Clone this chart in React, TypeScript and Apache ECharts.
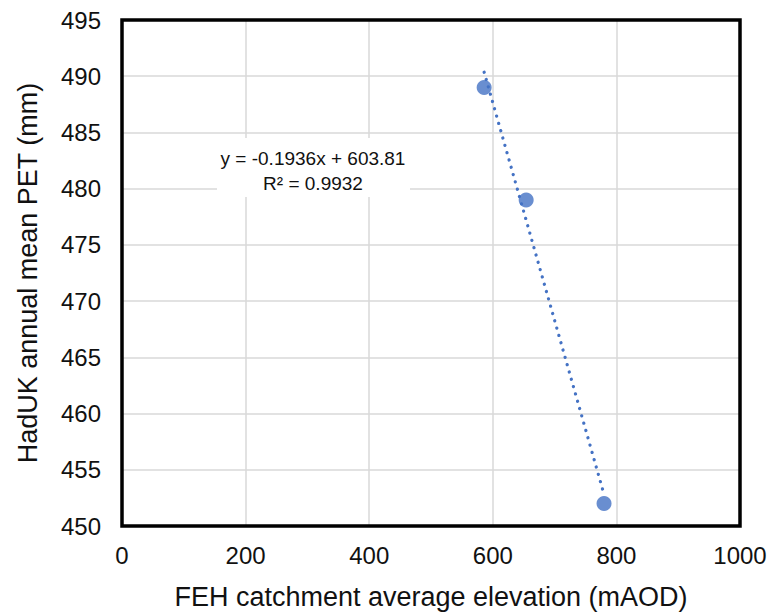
import React, { useEffect, useRef } from "react";
import * as echarts from "echarts";

const elevation = [586, 654, 780];
const pet = [489, 479, 452];
const slope = -0.1936;
const intercept = 603.81;
const equationLines = ["y = -0.1936x + 603.81", "R² = 0.9932"];
const xTitle = "FEH catchment average elevation (mAOD)";
const yTitle = "HadUK annual mean PET (mm)";

const GRID = { left: 122, top: 20, right: 31, bottom: 90 };
const W = 771;
const H = 616;

export default function App() {
  const ref = useRef<HTMLDivElement>(null);
  useEffect(() => {
    if (!ref.current) return;
    const chart = echarts.init(ref.current, null, { renderer: "svg" });
    const xMin = Math.min(...elevation);
    const xMax = Math.max(...elevation);
    const trend = [
      [xMin, slope * xMin + intercept],
      [xMax, slope * xMax + intercept],
    ];
    const font = "'Liberation Sans', Arial, sans-serif";
    chart.setOption({
      animation: false,
      backgroundColor: "#fff",
      grid: { ...GRID },
      xAxis: {
        type: "value",
        min: 0,
        max: 1000,
        interval: 200,
        name: xTitle,
        nameLocation: "middle",
        nameGap: 57,
        nameTextStyle: { fontFamily: font, fontSize: 27, color: "#111" },
        axisLine: { show: false },
        axisTick: { show: false },
        axisLabel: {
          fontFamily: font,
          fontSize: 24,
          color: "#111",
          margin: 17,
          formatter: (v: number) => String(v),
        },
        splitLine: { show: true, lineStyle: { color: "#d9d9d9", width: 1.5 } },
      },
      yAxis: {
        type: "value",
        min: 450,
        max: 495,
        interval: 5,
        name: yTitle,
        nameLocation: "middle",
        nameGap: 81,
        nameTextStyle: { fontFamily: font, fontSize: 27, color: "#111" },
        axisLine: { show: false },
        axisTick: { show: false },
        axisLabel: { fontFamily: font, fontSize: 24, color: "#111", margin: 21 },
        splitLine: { show: true, lineStyle: { color: "#d9d9d9", width: 1.5 } },
      },
      graphic: [
        {
          type: "rect",
          shape: {
            x: GRID.left,
            y: GRID.top,
            width: W - GRID.left - GRID.right,
            height: H - GRID.top - GRID.bottom,
          },
          style: { fill: "none", stroke: "#000", lineWidth: 3.5 },
          z: 20,
          silent: true,
        },
        {
          type: "rect",
          shape: { x: 217, y: 138, width: 193, height: 59 },
          style: { fill: "#fff" },
          z: 5,
        },
        {
          type: "text",
          x: 313,
          y: 158,
          z: 6,
          style: {
            text: equationLines[0],
            font: `19px ${font}`,
            fill: "#111",
            align: "center",
            verticalAlign: "middle",
          },
        },
        {
          type: "text",
          x: 313,
          y: 183,
          z: 6,
          style: {
            text: equationLines[1],
            font: `19px ${font}`,
            fill: "#111",
            align: "center",
            verticalAlign: "middle",
          },
        },
      ],
      series: [
        {
          type: "line",
          data: trend,
          symbol: "none",
          z: 7,
          lineStyle: {
            color: "#4472C4",
            width: 3.2,
            type: [0.1, 7.5],
            cap: "round",
          },
        },
        {
          type: "scatter",
          data: elevation.map((x, i) => [x, pet[i]]),
          symbol: "circle",
          symbolSize: 15,
          z: 8,
          itemStyle: { color: "#4472C4" },
        },
      ],
    });
    return () => chart.dispose();
  }, []);
  return <div ref={ref} style={{ width: W, height: H, position: "absolute", left: 0, top: 0 }} />;
}
